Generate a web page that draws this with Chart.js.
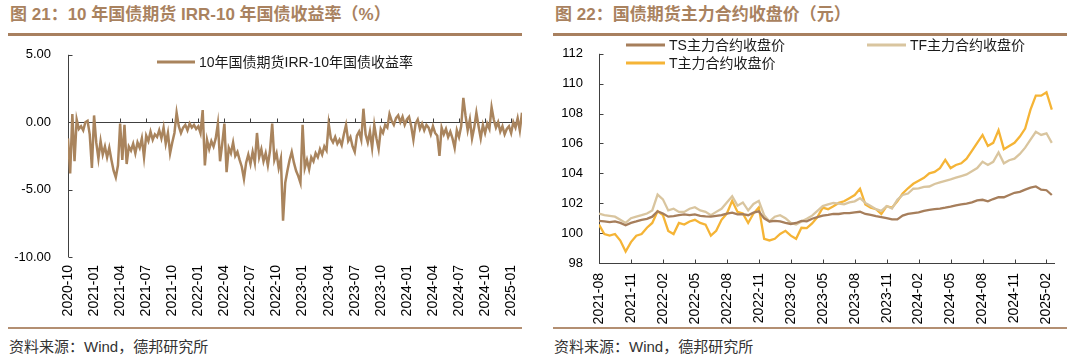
<!DOCTYPE html>
<html>
<head>
<meta charset="utf-8">
<script src="https://cdn.jsdelivr.net/npm/chart.js@4.4.1/dist/chart.umd.min.js"></script>
<style>
  body { margin: 0; width: 1080px; height: 360px; background: #fff; position: relative; overflow: hidden;
         font-family: "Liberation Sans", "Noto Sans CJK SC", sans-serif; }
  .title { position: absolute; top: 5px; line-height: 20px; font-size: 17px; font-weight: bold; color: #a9825f; white-space: nowrap; }
  .rule { position: absolute; height: 3px; background: #a8805f; }
  .rule.bottom { height: 2px; background: #b38f72; }
  .source { position: absolute; top: 337px; line-height: 20px; font-size: 15px; color: #333; white-space: nowrap; }
  canvas { position: absolute; top: 30px; }
</style>
</head>
<body>
<div class="title" style="left:10px">图 21：10 年国债期货 IRR-10 年国债收益率（%）</div>
<div class="title" style="left:555px">图 22：国债期货主力合约收盘价（元）</div>
<div class="rule" style="left:8px;top:33px;width:514px"></div>
<div class="rule" style="left:553px;top:33px;width:514px"></div>
<canvas id="irrChart" width="540" height="295" style="left:0"></canvas>
<canvas id="priceChart" width="540" height="295" style="left:540px"></canvas>
<div class="rule bottom" style="left:8px;top:327px;width:514px"></div>
<div class="rule bottom" style="left:553px;top:327px;width:514px"></div>
<div class="source" style="left:9px">资料来源：Wind，德邦研究所</div>
<div class="source" style="left:554px">资料来源：Wind，德邦研究所</div>

<script>
// left chart: weekly-ish readings, one every quarter month from 2020-10
const irrLabel = '10年国债期货IRR-10年国债收益率';
const irrStep = 0.25;
const irrValues = [
  -1.2, -3.8, 0.6, -2.9, 0.2, -0.5, -0.3, -0.6, 0.0, 0.1,
  -0.9, -3.4, 0.5, -1.5, -2.7, -1.4, -2.4, -1.8, -2.6, -1.9,
  -2.8, -3.6, -4.1, -3.2, -0.1, -2.8, -0.2, -3.1, -1.8, -2.1,
  -1.6, -2.3, -1.5, -1.9, -1.2, -2.6, -1.0, -1.4, -0.7, -1.3,
  -0.9, -1.1, -0.6, -1.2, -0.4, -1.6, -0.8, -2.3, -1.5, -0.8,
  0.7, -0.3, -0.8, -0.4, -0.2, -0.6, -0.1, -0.4, -0.2, -0.5,
  -0.3, -0.8, 0.9, -3.2, -1.3, -2.0, -1.4, -1.8, -1.2, -0.1,
  -2.9, -1.6, -0.1, -3.7, -1.9, -2.3, -1.5, -2.5, -2.2, -2.8,
  -3.3, -4.2, -3.0, -2.4, -3.1, -2.2, -3.0, -0.8, -2.6, -2.0,
  -2.9, -2.3, -3.2, -2.1, -0.1, -2.8, -2.3, -3.4, -2.7, -7.3,
  -4.5, -3.6, -2.8, -2.2, -3.0,
  -3.6, -4.0, -4.5, -0.2, -3.4, -2.8, -3.5, -2.6, -2.9, -2.3,
  -2.6, -2.0, -2.4, -1.8, -2.1, -0.1, -1.2, -1.5, -1.1, -1.6,
  -1.3, -1.7, -0.9, -0.2, -1.4, -1.1, -1.8, -2.2, -1.0, -0.7,
  -1.3, 1.0, -0.9, -1.5, -0.7, -1.9, -0.2, -1.2, -2.0, -0.5,
  -0.8, -0.2, -0.4, 0.6, 0.1, -0.2, 0.3, 0.5, 0.0, 0.4,
  -0.2, 0.2, 0.4, -0.3, -1.3, -0.1, 0.2, -0.5, -0.1, -0.6,
  -0.2, -0.4, -0.9, -0.3, -0.8, -1.0, -2.5, -0.4, -0.9, -0.5,
  -1.1, -0.7, -1.2, -1.9, -0.6, -1.1, -0.3, 1.8, 0.5, -0.6,
  0.2, -1.2, -0.4, 0.7, -0.3, -1.2, -0.2, -0.8, -0.1, -0.5,
  1.1, 0.2, -0.4, 0.0, -0.7, -0.3, -0.9, -0.5, -0.3, -0.8,
  0.0, -0.4, 0.3, -0.6, 0.7
];
const irrTickLabels = ['2020-10', '2021-01', '2021-04', '2021-07', '2021-10', '2022-01', '2022-04', '2022-07', '2022-10',
  '2023-01', '2023-04', '2023-07', '2023-10', '2024-01', '2024-04', '2024-07', '2024-10', '2025-01'];

// right chart: half-month readings from 2021-08
const priceStep = 0.5;
const priceLabels = ['TS主力合约收盘价', 'TF主力合约收盘价', 'T主力合约收盘价'];
const tsValues = [
  100.82, 100.78, 100.74, 100.78, 100.68, 100.53, 100.68, 100.78, 100.89, 100.95,
  101.10, 101.46, 101.31, 101.10, 101.14, 101.20, 101.25, 101.20, 101.25, 101.16,
  101.12, 101.10, 101.16, 101.20, 101.31, 101.37, 101.25, 101.27, 101.20, 101.37,
  101.46, 100.99, 100.78, 100.82, 100.78, 100.68, 100.61, 100.68, 100.82, 100.79,
  100.96, 101.07, 101.17, 101.22, 101.28, 101.28, 101.34, 101.34, 101.39, 101.43,
  101.28, 101.22, 101.13, 101.07, 101.00, 100.92, 100.92, 101.17, 101.28, 101.34,
  101.39, 101.49, 101.56, 101.60, 101.64, 101.70, 101.77, 101.85, 101.92, 101.98,
  102.06, 102.19, 102.23, 102.13, 102.28, 102.40, 102.40, 102.55, 102.70, 102.76,
  102.91, 103.04, 103.12, 102.91, 102.87, 102.55
];
const tfValues = [
  101.31, 101.20, 101.16, 101.10, 100.89, 100.68, 101.00, 101.10, 101.20, 101.31,
  101.52, 102.58, 102.26, 101.52, 101.63, 101.42, 101.42, 101.63, 101.73, 101.52,
  101.42, 101.20, 101.42, 101.63, 102.05, 102.47, 101.84, 102.05, 101.52, 101.95,
  102.16, 101.20, 100.78, 101.10, 101.20, 101.00, 100.68, 100.57, 100.78, 100.96,
  101.17, 101.49, 101.81, 101.92, 102.02, 101.98, 101.92, 102.06, 102.13, 102.34,
  102.02, 101.81, 101.60, 101.49, 101.81, 101.64, 102.23, 102.55, 102.65, 102.97,
  103.00, 103.10, 103.12, 103.29, 103.40, 103.50, 103.60, 103.71, 103.82, 103.93,
  104.14, 104.35, 104.77, 104.56, 104.77, 105.40, 104.67, 104.88, 104.98, 105.30,
  105.72, 106.25, 106.78, 106.57, 106.68, 106.04
];
const tValues = [
  100.57, 99.94, 99.83, 99.94, 99.50, 98.77, 99.40, 99.83, 99.94, 100.36,
  100.68, 101.46, 101.20, 100.15, 99.94, 100.68, 100.57, 100.78, 100.89, 100.68,
  100.57, 99.83, 100.15, 100.89, 101.31, 102.16, 101.42, 101.31, 100.68, 101.31,
  101.73, 99.62, 99.51, 99.62, 99.94, 100.15, 99.83, 99.62, 100.36, 100.33,
  100.65, 101.07, 101.70, 101.60, 101.80, 102.02, 102.13, 102.34, 102.55, 102.97,
  101.92, 101.70, 101.60, 101.28, 101.80, 101.70, 102.13, 102.65, 103.00, 103.30,
  103.50, 103.70, 104.00, 104.10, 104.35, 104.90, 104.35, 104.56, 104.67, 104.98,
  105.50, 106.04, 106.57, 105.83, 106.04, 106.89, 105.62, 105.83, 106.04, 106.46,
  107.00, 108.26, 109.20, 109.20, 109.43, 108.26
];
const priceTickLabels = ['2021-08', '2021-11', '2022-02', '2022-05', '2022-08', '2022-11', '2023-02', '2023-05',
  '2023-08', '2023-11', '2024-02', '2024-05', '2024-08', '2024-11', '2025-02'];

const toPoints = (vals, step) => vals.map((v, i) => ({ x: i * step, y: v }));

// axis lines with short ticks pointing into the plot
const axisLines = {
  id: 'axisLines',
  beforeDatasetsDraw(chart, args, opts) {
    const { ctx, chartArea, scales: { x, y } } = chart;
    const base = Math.round(y.getPixelForValue(opts.base)) + 0.5;
    const left = Math.round(chartArea.left) + 0.5;
    ctx.save();
    ctx.strokeStyle = '#404040';
    ctx.lineWidth = 1;
    ctx.beginPath();
    ctx.moveTo(left, chartArea.top);
    ctx.lineTo(left, chartArea.bottom);
    ctx.moveTo(chartArea.left, base);
    ctx.lineTo(chartArea.right, base);
    x.ticks.forEach(t => {
      const px = Math.round(x.getPixelForValue(t.value)) + 0.5;
      ctx.moveTo(px, base);
      ctx.lineTo(px, base - 4);
    });
    y.ticks.forEach(t => {
      const py = Math.round(y.getPixelForValue(t.value)) + 0.5;
      ctx.moveTo(left, py);
      ctx.lineTo(left + 4, py);
    });
    ctx.stroke();
    ctx.restore();
  }
};

// legend drawn inside the plot
const lineLegend = {
  id: 'lineLegend',
  afterDraw(chart, args, opts) {
    const ctx = chart.ctx;
    ctx.save();
    ctx.font = '14px "Liberation Sans", "Noto Sans CJK SC"';
    ctx.textBaseline = 'middle';
    chart.data.datasets.forEach((ds, i) => {
      const p = opts.spots[i];
      ctx.strokeStyle = ds.borderColor;
      ctx.lineWidth = 3;
      ctx.beginPath();
      ctx.moveTo(p.x, p.y);
      ctx.lineTo(p.x + opts.lineLen, p.y);
      ctx.stroke();
      ctx.fillStyle = '#1a1a1a';
      ctx.fillText(ds.label, p.x + opts.lineLen + 4, p.y + 1);
    });
    ctx.restore();
  }
};

Chart.defaults.font.family = '"Liberation Sans", Arial, sans-serif';
Chart.defaults.color = '#000';

new Chart(document.getElementById('irrChart'), {
  type: 'line',
  data: {
    datasets: [{
      label: irrLabel,
      data: toPoints(irrValues, irrStep),
      borderColor: '#a9845d',
      borderWidth: 2.5,
      pointRadius: 0,
      tension: 0
    }]
  },
  options: {
    responsive: false,
    animation: false,
    layout: { padding: { top: 21, right: 18, left: 0, bottom: 0 } },
    plugins: {
      legend: { display: false },
      tooltip: { enabled: false },
      axisLines: { base: 0 },
      lineLegend: { spots: [{ x: 157, y: 32 }], lineLen: 38 }
    },
    scales: {
      x: {
        type: 'linear',
        min: 0,
        max: (irrValues.length - 1) * irrStep,
        grid: { display: false, drawTicks: false },
        border: { display: false },
        ticks: {
          minRotation: 90, maxRotation: 90, autoSkip: false, padding: 8,
          font: { size: 14 },
          callback: (v, i) => irrTickLabels[i]
        },
        afterBuildTicks: s => { s.ticks = irrTickLabels.map((_, i) => ({ value: i * 3 })); },
        afterFit: s => { s.height = 68; }
      },
      y: {
        min: -10,
        max: 5,
        grid: { display: false, drawTicks: false },
        border: { display: false },
        ticks: { stepSize: 5, padding: 17, font: { size: 13 }, callback: v => v.toFixed(2) },
        afterFit: s => { s.width = 68; }
      }
    }
  },
  plugins: [axisLines, lineLegend]
});

new Chart(document.getElementById('priceChart'), {
  type: 'line',
  data: {
    datasets: [
      { label: priceLabels[0], data: toPoints(tsValues, priceStep), borderColor: '#a67e5b' },
      { label: priceLabels[1], data: toPoints(tfValues, priceStep), borderColor: '#d9c59f' },
      { label: priceLabels[2], data: toPoints(tValues, priceStep), borderColor: '#f5b436' }
    ].map(d => Object.assign(d, { borderWidth: 2.3, pointRadius: 0, tension: 0 }))
  },
  options: {
    responsive: false,
    animation: false,
    layout: { padding: { top: 13, right: 25, left: 0, bottom: 0 } },
    plugins: {
      legend: { display: false },
      tooltip: { enabled: false },
      axisLines: { base: 98 },
      lineLegend: { spots: [{ x: 86, y: 15 }, { x: 327, y: 15 }, { x: 86, y: 33 }], lineLen: 39 }
    },
    scales: {
      x: {
        type: 'linear',
        min: 0,
        max: 42.8,
        grid: { display: false, drawTicks: false },
        border: { display: false },
        ticks: {
          minRotation: 90, maxRotation: 90, autoSkip: false, padding: 10,
          font: { size: 14 },
          callback: (v, i) => priceTickLabels[i]
        },
        afterBuildTicks: s => { s.ticks = priceTickLabels.map((_, i) => ({ value: i * 3 })); },
        afterFit: s => { s.height = 62; }
      },
      y: {
        min: 98,
        max: 112,
        grid: { display: false, drawTicks: false },
        border: { display: false },
        ticks: { stepSize: 2, padding: 16, font: { size: 13 } },
        afterFit: s => { s.width = 59; }
      }
    }
  },
  plugins: [axisLines, lineLegend]
});
</script>
</body>
</html>
